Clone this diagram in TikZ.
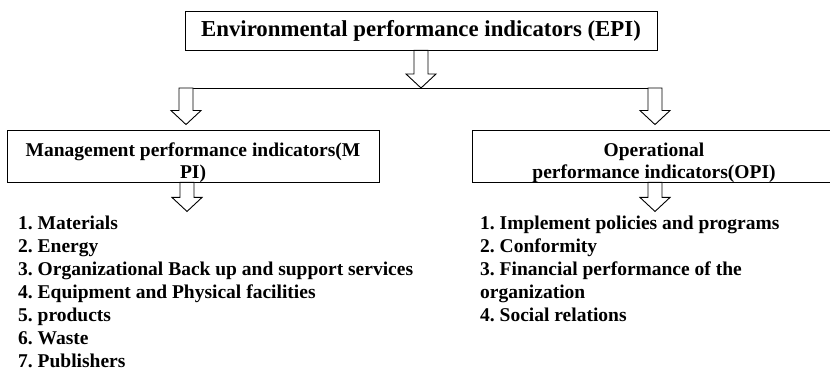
\documentclass[tikz,border=0pt]{standalone}
\usepackage{fontspec}
\setmainfont{Liberation Serif}
\usetikzlibrary{calc}
\frenchspacing

\tikzset{
    panel/.style={draw, line width=0.9pt, inner sep=0pt},
    paneltext/.style={font=\fontsize{19.5}{22}\selectfont\bfseries, align=center, inner sep=0pt},
    listtext/.style={font=\fontsize{19.5}{23}\selectfont\bfseries, align=left, inner sep=0pt, anchor=north west},
    arrowshape/.style={draw, line width=0.9pt, fill=white, line join=miter},
}

% hollow block arrow from #1 (top centre) down to the tip #2
\newcommand\blockarrow[2]{%
    \draw[arrowshape] ($#1+(-7,0)$) -- ($#2+(-7,-14)$) -- ($#2+(-15,-14)$) -- #2
        -- ($#2+(15,-14)$) -- ($#2+(7,-14)$) -- ($#1+(7,0)$) -- cycle;
}

\begin{document}
\begin{tikzpicture}[x=1pt,y=-1pt]
    \useasboundingbox (0,0) rectangle (830,374);
    %\draw[help lines,step=50] (0,0) grid (830,374);

    % boxes
    \node[panel, minimum width=472, minimum height=39,
          font=\fontsize{22.8}{26}\selectfont\bfseries] (epi) at (421,30.5)
          {Environmental performance indicators (EPI)};
    \node[panel, minimum width=372, minimum height=52] (mpi) at (193,156) {};
    \node[panel, minimum width=364, minimum height=52] (opi) at (654,156) {};
    \node[paneltext] (mpitext) at ($(mpi.center)+(0,7)$)
          {Management performance indicators(M\\PI)};
    \node[paneltext] (opitext) at ($(opi.center)+(0,7)$)
          {Operational\\performance indicators(OPI)};

    % fork under the top box
    \coordinate (forkl) at (186,88);
    \coordinate (forkr) at (655,88);
    \coordinate (tipl) at ($(forkl |- mpi.north)+(0,-5)$);
    \coordinate (tipr) at ($(forkr |- opi.north)+(0,-5)$);
    \draw[line width=0.9pt] ($(forkl)+(-7,0)$) -- ($(forkr)+(7,0)$);
    \blockarrow{(epi.south)}{(epi.south |- forkl)}
    \blockarrow{(forkl)}{(tipl)}
    \blockarrow{(forkr)}{(tipr)}

    % arrows into the lists
    \coordinate (mpiout) at ($(mpi.south)+(-6,0)$);
    \coordinate (mpitip) at ($(mpiout)+(0,29)$);
    \coordinate (opiout) at ($(opi.south)+(1,0)$);
    \coordinate (opitip) at ($(opiout)+(0,29)$);
    \blockarrow{(mpiout)}{(mpitip)}
    \blockarrow{(opiout)}{(opitip)}

    % lists
    \node[listtext] (mpilist) at (18,216) {%
        1. Materials\\
        2. Energy\\
        3. Organizational Back up and support services\\
        4. Equipment and Physical facilities\\
        5. products\\
        6. Waste\\
        7. Publishers};
    \node[listtext] (opilist) at (480,216) {%
        1. Implement policies and programs\\
        2. Conformity\\
        3. Financial performance of the\\
        organization\\
        4. Social relations};
\end{tikzpicture}
\end{document}
